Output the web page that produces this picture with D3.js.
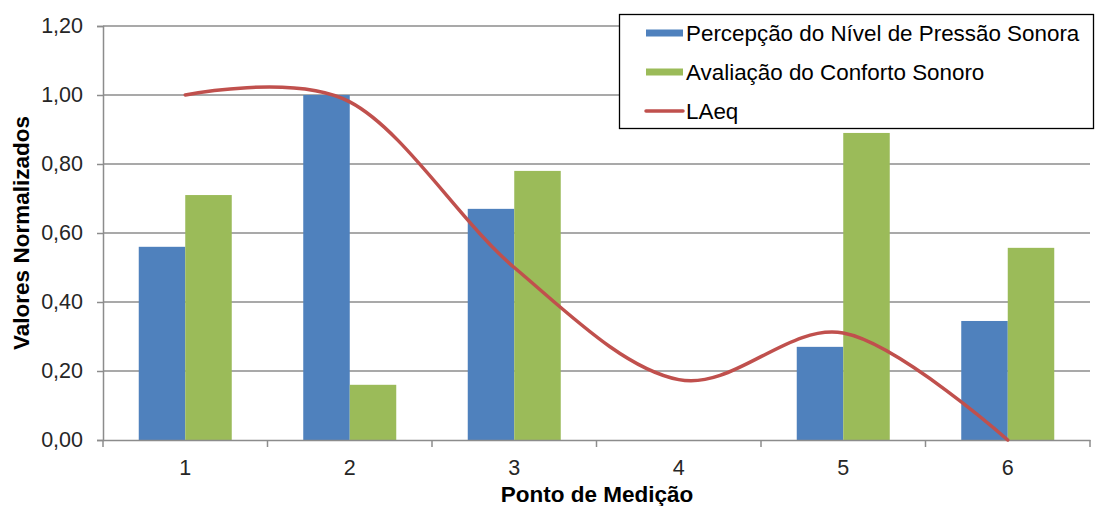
<!DOCTYPE html>
<html><head><meta charset="utf-8">
<script src="https://cdn.jsdelivr.net/npm/d3@7"></script>
<style>body{margin:0;background:#fff}svg{display:block}text{font-family:"Liberation Sans",Arial,sans-serif}</style>
</head><body>
<svg id="c" width="1096" height="506"></svg>
<script>
const categories = ["1","2","3","4","5","6"];
const percepcao = [0.56, 1.00, 0.67, 0.00, 0.27, 0.345];
const conforto = [0.71, 0.16, 0.78, 0.00, 0.89, 0.557];
const laeq = [1.00, 0.98, 0.50, 0.175, 0.31, 0.00];
const yTicks = [0, 0.2, 0.4, 0.6, 0.8, 1.0, 1.2];
const seriesNames = ["Percepção do Nível de Pressão Sonora", "Avaliação do Conforto Sonoro", "LAeq"];
const colors = ["#4F81BD", "#9BBB59", "#C0504D"];

const svg = d3.select("#c");
const L = 103, R = 1090, T = 26, B = 440;
const x = d3.scaleBand().domain(categories).range([L, R]).paddingInner(0).paddingOuter(0);
const y = d3.scaleLinear().domain([0, 1.2]).range([B, T]);
const bw = 46.5;
const fmt = v => d3.format(".2f")(v).replace(".", ",");

// gridlines
svg.append("g").selectAll("line").data(yTicks.filter(d => d > 0)).join("line")
  .attr("x1", L).attr("x2", R).attr("y1", d => y(d)).attr("y2", d => y(d))
  .attr("stroke", "#8c8c8c").attr("stroke-width", 1.5);

// y axis
const ya = svg.append("g").attr("transform", `translate(${L},0)`)
  .call(d3.axisLeft(y).tickValues(yTicks).tickFormat(fmt).tickSize(6).tickPadding(14));
ya.select(".domain").attr("stroke", "#8c8c8c").attr("stroke-width", 1.5);
ya.selectAll(".tick line").attr("stroke", "#8c8c8c").attr("stroke-width", 1.5);
ya.selectAll(".tick text").attr("font-size", 21.5).attr("fill", "#262626")
  .attr("font-family", "Liberation Sans, Arial, sans-serif");

// bars
const g = svg.append("g");
g.selectAll(".b1").data(categories).join("rect")
  .attr("x", d => x(d) + x.bandwidth()/2 - bw).attr("width", bw)
  .attr("y", (d,i) => y(percepcao[i])).attr("height", (d,i) => B - y(percepcao[i]))
  .attr("fill", colors[0]);
g.selectAll(".b2").data(categories).join("rect")
  .attr("x", d => x(d) + x.bandwidth()/2).attr("width", bw)
  .attr("y", (d,i) => y(conforto[i])).attr("height", (d,i) => B - y(conforto[i]))
  .attr("fill", colors[1]);

// x axis
const xa = svg.append("g").attr("transform", `translate(0,${B})`)
  .call(d3.axisBottom(x).tickSize(0).tickPadding(20));
xa.select(".domain").attr("stroke", "#8c8c8c").attr("stroke-width", 1.5);
xa.selectAll(".tick text").attr("font-size", 21.5).attr("fill", "#262626")
  .attr("font-family", "Liberation Sans, Arial, sans-serif");
// boundary ticks
const bounds = categories.map(c => x(c)).concat([R]);
svg.append("g").selectAll("line").data(bounds).join("line")
  .attr("x1", d => d).attr("x2", d => d).attr("y1", B).attr("y2", B + 7)
  .attr("stroke", "#8c8c8c").attr("stroke-width", 1.5);

// LAeq line
const line = d3.line()
  .x((d,i) => x(categories[i]) + x.bandwidth()/2)
  .y(d => y(d))
  .curve(d3.curveCardinal.tension(0));
svg.append("path").datum(laeq).attr("d", line)
  .attr("fill", "none").attr("stroke", colors[2]).attr("stroke-width", 3.5).attr("stroke-linecap", "round");

// axis titles
svg.append("text").attr("x", 597).attr("y", 502).attr("text-anchor", "middle")
  .attr("font-size", 22.5).attr("font-weight", "bold").attr("fill", "#000").text("Ponto de Medição");
svg.append("text").attr("transform", `translate(29,${233}) rotate(-90)`).attr("text-anchor", "middle")
  .attr("font-size", 22.5).attr("font-weight", "bold").attr("fill", "#000").text("Valores Normalizados");

// legend
const lg = svg.append("g");
lg.append("rect").attr("x", 619.5).attr("y", 14.5).attr("width", 474).attr("height", 114)
  .attr("fill", "#fff").attr("stroke", "#000").attr("stroke-width", 1.3);
const rowsY = [33, 72, 111];
seriesNames.forEach((n, i) => {
  if (i < 2) {
    lg.append("rect").attr("x", 646).attr("y", rowsY[i] - 3.5).attr("width", 37).attr("height", 7).attr("fill", colors[i]);
  } else {
    lg.append("line").attr("x1", 646).attr("x2", 683).attr("y1", rowsY[i]).attr("y2", rowsY[i])
      .attr("stroke", colors[i]).attr("stroke-width", 3.5).attr("stroke-linecap", "round");
  }
  lg.append("text").attr("x", 686).attr("y", rowsY[i] + 7.5).attr("font-size", 22.4).attr("fill", "#000").text(n);
});
</script>
</body></html>
